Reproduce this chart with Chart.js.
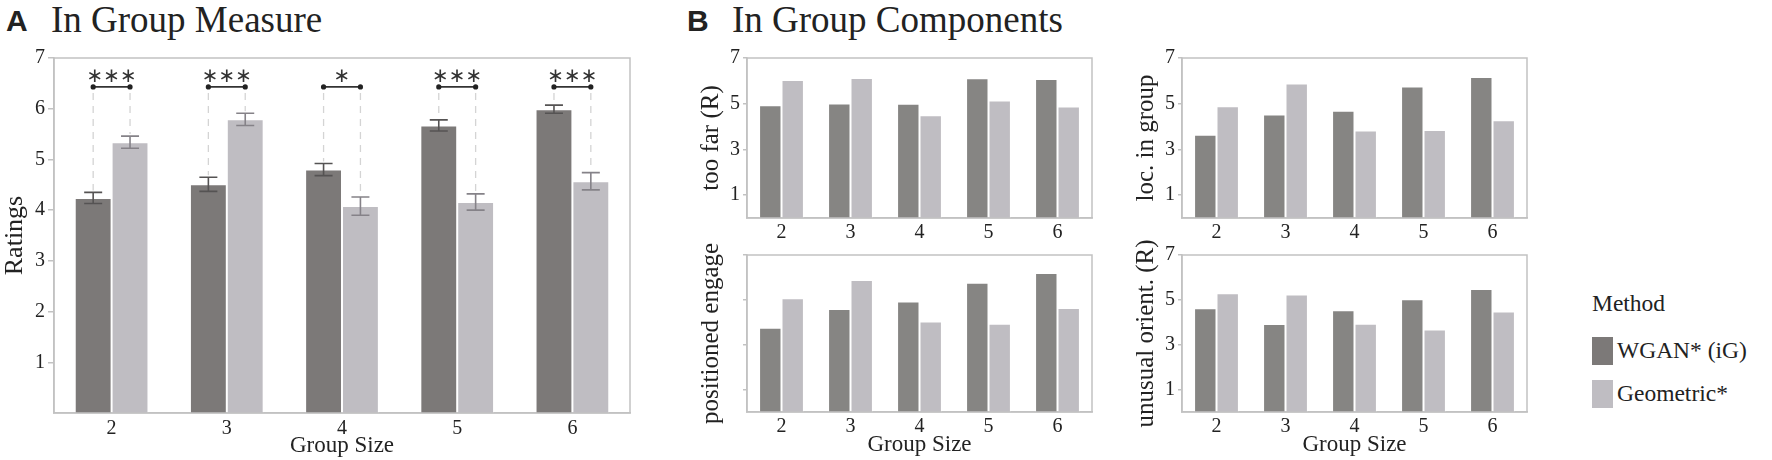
<!DOCTYPE html>
<html><head><meta charset="utf-8">
<script src="https://cdn.jsdelivr.net/npm/chart.js@4.4.0/dist/chart.umd.min.js"></script>
<style>
body{margin:0;width:1772px;height:460px;background:#fff;position:relative;overflow:hidden;font-family:"Liberation Serif","DejaVu Serif","Noto Serif","Times New Roman",serif;color:#222;}
canvas{position:absolute;}
.ttl{position:absolute;font-size:37px;white-space:nowrap;line-height:1;top:1px;}
.lab{position:absolute;font-family:"Liberation Sans",Arial,sans-serif;font-weight:bold;font-size:30px;line-height:1;top:6px;}
#legend{position:absolute;left:1592px;top:285px;font-size:23.5px;}
.li{display:flex;align-items:center;height:43px;}
.sw{width:21px;height:28px;margin-right:4px;}
</style></head><body>
<div class="lab" style="left:6px;">A</div>
<div class="ttl" style="left:51px;">In Group Measure</div>
<div class="lab" style="left:687px;">B</div>
<div class="ttl" style="left:732px;">In Group Components</div>
<canvas id="cA" width="640" height="420" style="left:0;top:40px"></canvas>
<canvas id="cTL" width="412" height="200" style="left:690px;top:40px"></canvas>
<canvas id="cTR" width="412" height="200" style="left:1125px;top:40px"></canvas>
<canvas id="cBL" width="412" height="220" style="left:690px;top:240px"></canvas>
<canvas id="cBR" width="412" height="220" style="left:1125px;top:240px"></canvas>
<div id="legend"></div>
<script>
// ---- data ----
const groupSizes = ['2','3','4','5','6'];
const seriesNames = ['WGAN* (iG)', 'Geometric*'];
const measureWGAN = [4.24, 4.51, 4.80, 5.67, 5.99];
const measureGeo  = [5.34, 5.79, 4.08, 4.16, 4.57];
const errWGAN = [0.11, 0.14, 0.12, 0.11, 0.08];
const errGeo  = [0.12, 0.12, 0.18, 0.16, 0.17];
const significance = ['***','***','*','***','***'];
const bracketLevel = 6.43;
const tooFarWGAN = [4.93, 5.01, 5.00, 6.11, 6.08];
const tooFarGeo  = [6.04, 6.12, 4.50, 5.14, 4.88];
const locWGAN = [3.64, 4.53, 4.69, 5.75, 6.17];
const locGeo  = [4.89, 5.88, 3.83, 3.85, 4.28];
const engageWGAN = [3.76, 4.59, 4.93, 5.76, 6.20];
const engageGeo  = [5.07, 5.88, 4.03, 3.94, 4.64];
const orientWGAN = [4.63, 3.92, 4.54, 5.03, 5.48];
const orientGeo  = [5.30, 5.24, 3.94, 3.68, 4.48];
const ticksA = [1,2,3,4,5,6,7];
const ticksB = [1,3,5,7];

// ---- styles ----
const darkA = '#7c7978', darkB = '#868583', light = '#bfbdc2';
const axisCol = '#c2c2c2', textCol = '#222';
const serifFam = '"Liberation Serif", "DejaVu Serif", "Noto Serif", serif';
Chart.defaults.font.family = serifFam;
Chart.defaults.color = textCol;
Chart.defaults.devicePixelRatio = 1;

const framePlugin = {
  id:'frame',
  afterDraw(chart){
    const {ctx, chartArea:a} = chart;
    ctx.save(); ctx.strokeStyle = axisCol; ctx.lineWidth = 1.5;
    ctx.strokeRect(a.left, a.top, a.right-a.left, a.bottom-a.top);
    ctx.restore();
  }
};

const errorPlugin = {
  id:'errbars',
  afterDatasetsDraw(chart){
    const {ctx} = chart; const ys = chart.scales.y;
    const errs = [errWGAN, errGeo];
    const cols = ['#555353', '#858288'];
    chart.data.datasets.forEach((ds, di) => {
      const meta = chart.getDatasetMeta(di);
      meta.data.forEach((bar, i) => {
        const v = ds.data[i], e = errs[di][i];
        const y1 = ys.getPixelForValue(v - e), y2 = ys.getPixelForValue(v + e);
        ctx.save(); ctx.strokeStyle = cols[di]; ctx.lineWidth = 1.6;
        ctx.beginPath();
        ctx.moveTo(bar.x, y1); ctx.lineTo(bar.x, y2);
        ctx.moveTo(bar.x-9, y1); ctx.lineTo(bar.x+9, y1);
        ctx.moveTo(bar.x-9, y2); ctx.lineTo(bar.x+9, y2);
        ctx.stroke(); ctx.restore();
      });
    });
  }
};

const sigPlugin = {
  id:'sig',
  afterDatasetsDraw(chart){
    const {ctx} = chart; const ys = chart.scales.y;
    const m0 = chart.getDatasetMeta(0), m1 = chart.getDatasetMeta(1);
    const yb = ys.getPixelForValue(bracketLevel);
    groupSizes.forEach((g, i) => {
      const x0 = m0.data[i].x, x1 = m1.data[i].x;
      const t0 = ys.getPixelForValue(measureWGAN[i] + errWGAN[i]);
      const t1 = ys.getPixelForValue(measureGeo[i] + errGeo[i]);
      ctx.save();
      ctx.strokeStyle = '#d4d4d4'; ctx.lineWidth = 1.3; ctx.setLineDash([7,6]);
      ctx.beginPath();
      ctx.moveTo(x0, yb+6); ctx.lineTo(x0, t0-2);
      ctx.moveTo(x1, yb+6); ctx.lineTo(x1, t1-2);
      ctx.stroke();
      ctx.setLineDash([]);
      ctx.strokeStyle = '#333'; ctx.lineWidth = 1.6;
      ctx.beginPath(); ctx.moveTo(x0, yb); ctx.lineTo(x1, yb); ctx.stroke();
      ctx.fillStyle = '#222';
      [x0, x1].forEach(x => { ctx.beginPath(); ctx.arc(x, yb, 2.6, 0, Math.PI*2); ctx.fill(); });
      ctx.font = '20px "DejaVu Sans", sans-serif';
      ctx.textAlign = 'center'; ctx.textBaseline = 'alphabetic';
      ctx.fillStyle = '#333';
      ctx.fillText(significance[i].replace(/\*/g, '\u2217'), (x0+x1)/2, yb - 5);
      ctx.restore();
    });
  }
};

function makeChart(id, dark, d0, d1, opt){
  const ctx = document.getElementById(id);
  return new Chart(ctx, {
    type:'bar',
    data:{ labels: groupSizes, datasets:[
      {label:seriesNames[0], data:d0, backgroundColor:dark, borderColor:'rgba(255,255,255,0.35)', borderWidth:1, borderSkipped:'bottom'},
      {label:seriesNames[1], data:d1, backgroundColor:light, borderColor:'rgba(255,255,255,0.6)', borderWidth:1, borderSkipped:'bottom'}
    ]},
    options:{
      responsive:false, animation:false,
      layout:{padding:{top:opt.padTop, right:opt.padRight, left:0, bottom:0}},
      plugins:{legend:{display:false}, tooltip:{enabled:false}},
      datasets:{bar:{barPercentage:1, categoryPercentage:opt.catPct}},
      scales:{
        x:{
          grid:{display:false, drawTicks:false},
          border:{display:true, color:axisCol, width:1.5},
          ticks:{font:{size:opt.tickSize, family:serifFam}, padding:opt.xPad, color:textCol, maxRotation:0},
          title:{display:!!opt.xTitle, text:opt.xTitle||'', font:{size:opt.xTitleSize, family:serifFam}, padding:{top:0,bottom:opt.xTitlePad||0}, color:textCol},
          afterFit(s){ s.height = opt.xH; }
        },
        y:{
          min:0, max:7,
          afterBuildTicks(s){ s.ticks = opt.ticks.map(v => ({value:v})); },
          grid:{drawOnChartArea:false, drawTicks:true, tickLength:opt.tickLen, color:axisCol, lineWidth:1.5},
          border:{display:true, color:axisCol, width:1.5},
          ticks:{font:{size:opt.tickSize, family:serifFam}, padding:3, color:textCol, callback:(v)=> opt.hideY ? '' : String(v)},
          title:{display:true, text:opt.yTitle, font:{size:opt.yTitleSize, family:serifFam}, padding:{top:opt.yTitlePad, bottom:0}, color:textCol},
          afterFit(s){ s.width = opt.yW; }
        }
      }
    },
    plugins: opt.extra ? [framePlugin, ...opt.extra] : [framePlugin]
  });
}

makeChart('cA', darkA, measureWGAN, measureGeo, {
  padTop:18, padRight:10, catPct:0.64, tickSize:20, xPad:4, xTitle:'Group Size', xTitleSize:23, yTitleSize:26,
  xH:47, ticks:ticksA, tickLen:6, yTitle:'Ratings', yTitlePad:0, yW:54, extra:[errorPlugin, sigPlugin]
});
const common = {padRight:10, catPct:0.65, tickSize:20, xPad:3, xTitleSize:23, yTitleSize:25, ticks:ticksB, tickLen:4, yTitlePad:6, yW:57};
makeChart('cTL', darkB, tooFarWGAN, tooFarGeo, {...common, padTop:18, xH:22, yTitle:'too far (R)'});
makeChart('cTR', darkB, locWGAN, locGeo, {...common, padTop:18, xH:22, yTitle:'loc. in group'});
makeChart('cBL', darkB, engageWGAN, engageGeo, {...common, padTop:12, xH:48, yTitle:'positioned engage', hideY:true, xTitle:'Group Size', xTitlePad:1});
makeChart('cBR', darkB, orientWGAN, orientGeo, {...common, padTop:12, xH:48, yTitle:'unusual orient. (R)', xTitle:'Group Size', xTitlePad:1});

// ---- legend ----
const lg = document.getElementById('legend');
const legendColors = [darkA, light];
lg.innerHTML = '<div style="height:36px;line-height:36px;margin-bottom:8px">Method</div>' +
  seriesNames.map((n, i) => `<div class="li"><span class="sw" style="background:${legendColors[i]}"></span>${n}</div>`).join('');
</script>
</body></html>
